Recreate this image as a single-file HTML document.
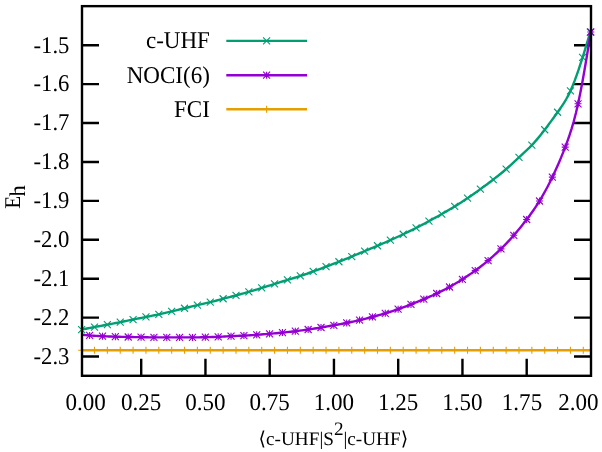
<!DOCTYPE html>
<html><head><meta charset="utf-8"><title>plot</title>
<style>
html,body{margin:0;padding:0;background:#fff;}
body{width:602px;height:452px;overflow:hidden;}
svg{display:block;will-change:transform;}
text{font-family:"Liberation Serif",serif;fill:#000;text-rendering:geometricPrecision;}
</style></head><body>
<svg width="602" height="452" viewBox="0 0 602 452">
<rect x="0" y="0" width="602" height="452" fill="#fff"/>
<path d="M82.00,45.25H99.00M591.00,45.25H574.00M82.00,84.16H99.00M591.00,84.16H574.00M82.00,123.06H99.00M591.00,123.06H574.00M82.00,161.97H99.00M591.00,161.97H574.00M82.00,200.87H99.00M591.00,200.87H574.00M82.00,239.78H99.00M591.00,239.78H574.00M82.00,278.69H99.00M591.00,278.69H574.00M82.00,317.59H99.00M591.00,317.59H574.00M82.00,356.50H99.00M591.00,356.50H574.00M141.20,375.80V358.80M205.45,375.80V358.80M269.70,375.80V358.80M333.95,375.80V358.80M398.20,375.80V358.80M462.45,375.80V358.80M526.70,375.80V358.80" fill="none" stroke="#000" stroke-width="2.4"/>
<polyline points="81.64,329.55 83.78,329.13 85.93,328.71 88.07,328.29 90.22,327.87 92.36,327.46 94.50,327.05 96.65,326.65 98.79,326.25 100.93,325.85 103.08,325.45 105.22,325.05 107.37,324.65 109.51,324.24 111.65,323.83 113.80,323.42 115.94,323.00 118.09,322.58 120.23,322.15 122.37,321.72 124.52,321.29 126.66,320.86 128.80,320.42 130.95,319.99 133.09,319.55 135.24,319.11 137.38,318.68 139.52,318.24 141.67,317.81 143.81,317.38 145.95,316.95 148.10,316.53 150.24,316.11 152.39,315.68 154.53,315.25 156.67,314.81 158.82,314.35 160.96,313.88 163.11,313.39 165.25,312.89 167.39,312.38 169.54,311.87 171.68,311.35 173.82,310.83 175.97,310.32 178.11,309.80 180.26,309.29 182.40,308.77 184.54,308.25 186.69,307.73 188.83,307.21 190.98,306.68 193.12,306.17 195.26,305.65 197.41,305.15 199.55,304.65 201.69,304.16 203.84,303.67 205.98,303.18 208.13,302.67 210.27,302.15 212.41,301.61 214.56,301.05 216.70,300.48 218.85,299.91 220.99,299.33 223.13,298.75 225.28,298.18 227.42,297.61 229.56,297.04 231.71,296.48 233.85,295.91 236.00,295.35 238.14,294.78 240.28,294.22 242.43,293.64 244.57,293.06 246.72,292.46 248.86,291.85 251.00,291.22 253.15,290.59 255.29,289.94 257.43,289.28 259.58,288.62 261.72,287.95 263.87,287.28 266.01,286.62 268.15,285.95 270.30,285.29 272.44,284.62 274.58,283.95 276.73,283.28 278.87,282.61 281.02,281.94 283.16,281.27 285.30,280.61 287.45,279.95 289.59,279.29 291.74,278.64 293.88,277.98 296.02,277.32 298.17,276.64 300.31,275.95 302.45,275.24 304.60,274.51 306.74,273.76 308.89,273.00 311.03,272.23 313.17,271.45 315.32,270.66 317.46,269.87 319.61,269.07 321.75,268.26 323.89,267.46 326.04,266.65 328.18,265.84 330.32,265.04 332.47,264.22 334.61,263.41 336.76,262.58 338.90,261.75 341.04,260.91 343.19,260.05 345.33,259.19 347.48,258.32 349.62,257.44 351.76,256.55 353.91,255.66 356.05,254.76 358.19,253.86 360.34,252.95 362.48,252.05 364.63,251.15 366.77,250.25 368.91,249.36 371.06,248.46 373.20,247.56 375.35,246.66 377.49,245.75 379.63,244.84 381.78,243.91 383.92,242.98 386.06,242.05 388.21,241.10 390.35,240.15 392.50,239.19 394.64,238.22 396.78,237.24 398.93,236.25 401.07,235.26 403.21,234.25 405.36,233.23 407.50,232.20 409.65,231.16 411.79,230.11 413.93,229.04 416.08,227.95 418.22,226.85 420.37,225.73 422.51,224.60 424.65,223.46 426.80,222.31 428.94,221.15 431.08,219.99 433.23,218.82 435.37,217.64 437.52,216.46 439.66,215.26 441.80,214.05 443.95,212.83 446.09,211.59 448.24,210.33 450.38,209.05 452.52,207.76 454.67,206.45 456.81,205.12 458.95,203.76 461.10,202.39 463.24,201.00 465.39,199.58 467.53,198.15 469.67,196.70 471.82,195.22 473.96,193.73 476.11,192.22 478.25,190.69 480.39,189.15 482.54,187.59 484.68,186.01 486.82,184.42 488.97,182.81 491.11,181.19 493.26,179.55 495.40,177.90 497.54,176.22 499.69,174.52 501.83,172.78 503.98,170.99 506.12,169.15 508.26,167.25 510.41,165.30 512.55,163.32 514.69,161.33 516.84,159.33 518.98,157.35 521.13,155.39 523.27,153.44 525.41,151.47 527.56,149.44 529.70,147.35 531.85,145.15 533.99,142.83 536.13,140.40 538.28,137.86 540.42,135.23 542.56,132.52 544.71,129.75 546.85,126.92 549.00,124.05 551.14,121.13 553.28,118.19 555.43,115.23 557.57,112.25 559.71,109.25 561.86,106.16 564.00,102.87 566.15,99.30 568.29,95.36 570.43,90.95 572.46,86.29 574.49,81.18 576.52,75.68 578.54,69.84 580.57,63.73 582.60,57.40 583.88,53.30 585.17,49.15 586.45,44.95 587.73,40.72 589.02,36.46 590.30,32.20" fill="none" stroke="#009E73" stroke-width="2.4" stroke-linejoin="round" stroke-linecap="butt"/>
<path d="M78.14,326.05L85.14,333.05M78.14,333.05L85.14,326.05M91.00,323.55L98.00,330.55M91.00,330.55L98.00,323.55M103.87,321.15L110.87,328.15M103.87,328.15L110.87,321.15M116.73,318.65L123.73,325.65M116.73,325.65L123.73,318.65M129.59,316.05L136.59,323.05M129.59,323.05L136.59,316.05M142.45,313.45L149.45,320.45M142.45,320.45L149.45,313.45M155.32,310.85L162.32,317.85M155.32,317.85L162.32,310.85M168.18,307.85L175.18,314.85M168.18,314.85L175.18,307.85M181.04,304.75L188.04,311.75M181.04,311.75L188.04,304.75M193.91,301.65L200.91,308.65M193.91,308.65L200.91,301.65M206.77,298.65L213.77,305.65M206.77,305.65L213.77,298.65M219.63,295.25L226.63,302.25M219.63,302.25L226.63,295.25M232.50,291.85L239.50,298.85M232.50,298.85L239.50,291.85M245.36,288.35L252.36,295.35M245.36,295.35L252.36,288.35M258.22,284.45L265.22,291.45M258.22,291.45L265.22,284.45M271.08,280.45L278.08,287.45M271.08,287.45L278.08,280.45M283.95,276.45L290.95,283.45M283.95,283.45L290.95,276.45M296.81,272.45L303.81,279.45M296.81,279.45L303.81,272.45M309.67,267.95L316.67,274.95M309.67,274.95L316.67,267.95M322.54,263.15L329.54,270.15M322.54,270.15L329.54,263.15M335.40,258.25L342.40,265.25M335.40,265.25L342.40,258.25M348.26,253.05L355.26,260.05M348.26,260.05L355.26,253.05M361.13,247.65L368.13,254.65M361.13,254.65L368.13,247.65M373.99,242.25L380.99,249.25M373.99,249.25L380.99,242.25M386.85,236.65L393.85,243.65M386.85,243.65L393.85,236.65M399.71,230.75L406.71,237.75M399.71,237.75L406.71,230.75M412.58,224.45L419.58,231.45M412.58,231.45L419.58,224.45M425.44,217.65L432.44,224.65M425.44,224.65L432.44,217.65M438.30,210.55L445.30,217.55M438.30,217.55L445.30,210.55M451.17,202.95L458.17,209.95M451.17,209.95L458.17,202.95M464.03,194.65L471.03,201.65M464.03,201.65L471.03,194.65M476.89,185.65L483.89,192.65M476.89,192.65L483.89,185.65M489.76,176.05L496.76,183.05M489.76,183.05L496.76,176.05M502.62,165.65L509.62,172.65M502.62,172.65L509.62,165.65M515.48,153.85L522.48,160.85M515.48,160.85L522.48,153.85M528.35,141.65L535.35,148.65M528.35,148.65L535.35,141.65M541.21,126.25L548.21,133.25M541.21,133.25L548.21,126.25M554.07,108.75L561.07,115.75M554.07,115.75L561.07,108.75M566.93,87.45L573.93,94.45M566.93,94.45L573.93,87.45M579.10,53.90L586.10,60.90M579.10,60.90L586.10,53.90M586.80,28.70L593.80,35.70M586.80,35.70L593.80,28.70" fill="none" stroke="#009E73" stroke-width="1.1"/>
<polyline points="82.00,334.75 83.28,334.87 84.55,335.00 85.83,335.12 87.10,335.23 88.38,335.34 89.65,335.45 91.80,335.61 93.94,335.75 96.08,335.88 98.22,336.00 100.36,336.10 102.51,336.20 104.65,336.30 106.79,336.39 108.93,336.47 111.07,336.55 113.22,336.63 115.36,336.70 117.50,336.76 119.64,336.82 121.79,336.87 123.93,336.92 126.07,336.96 128.21,337.00 130.35,337.04 132.50,337.07 134.64,337.10 136.78,337.13 138.92,337.16 141.06,337.20 143.21,337.24 145.35,337.28 147.49,337.31 149.63,337.35 151.78,337.38 153.92,337.40 156.06,337.41 158.20,337.42 160.34,337.42 162.49,337.41 164.63,337.41 166.77,337.40 168.91,337.40 171.06,337.39 173.20,337.39 175.34,337.39 177.48,337.40 179.62,337.40 181.77,337.41 183.91,337.41 186.05,337.41 188.19,337.41 190.33,337.41 192.48,337.40 194.62,337.38 196.76,337.36 198.90,337.33 201.05,337.29 203.19,337.25 205.33,337.20 207.47,337.15 209.61,337.09 211.76,337.03 213.90,336.96 216.04,336.88 218.18,336.80 220.33,336.71 222.47,336.61 224.61,336.51 226.75,336.41 228.89,336.30 231.04,336.20 233.18,336.10 235.32,336.01 237.46,335.91 239.60,335.81 241.75,335.71 243.89,335.60 246.03,335.48 248.17,335.36 250.32,335.23 252.46,335.09 254.60,334.95 256.74,334.80 258.88,334.65 261.03,334.49 263.17,334.32 265.31,334.16 267.45,333.98 269.59,333.80 271.74,333.61 273.88,333.42 276.02,333.22 278.16,333.02 280.31,332.81 282.45,332.60 284.59,332.38 286.73,332.16 288.87,331.93 291.02,331.70 293.16,331.45 295.30,331.20 297.44,330.94 299.59,330.67 301.73,330.39 303.87,330.10 306.01,329.81 308.15,329.50 310.30,329.19 312.44,328.86 314.58,328.53 316.72,328.19 318.86,327.85 321.01,327.50 323.15,327.14 325.29,326.78 327.43,326.42 329.58,326.05 331.72,325.68 333.86,325.30 336.00,324.92 338.14,324.53 340.29,324.14 342.43,323.74 344.57,323.32 346.71,322.90 348.86,322.46 351.00,322.01 353.14,321.55 355.28,321.08 357.42,320.60 359.57,320.10 361.71,319.59 363.85,319.08 365.99,318.55 368.13,318.01 370.28,317.46 372.42,316.90 374.56,316.33 376.70,315.75 378.85,315.15 380.99,314.55 383.13,313.93 385.27,313.30 387.41,312.66 389.56,312.00 391.70,311.33 393.84,310.64 395.98,309.93 398.12,309.20 400.27,308.44 402.41,307.67 404.55,306.87 406.69,306.06 408.84,305.23 410.98,304.40 413.12,303.56 415.26,302.71 417.40,301.85 419.55,300.98 421.69,300.10 423.83,299.20 425.97,298.29 428.12,297.37 430.26,296.43 432.40,295.47 434.54,294.49 436.68,293.50 438.83,292.49 440.97,291.45 443.11,290.38 445.25,289.29 447.39,288.16 449.54,287.00 451.68,285.80 453.82,284.56 455.96,283.29 458.11,281.99 460.25,280.66 462.39,279.30 464.53,277.92 466.67,276.51 468.82,275.08 470.96,273.62 473.10,272.13 475.24,270.60 477.39,269.04 479.53,267.43 481.67,265.79 483.81,264.11 485.95,262.38 488.10,260.60 490.24,258.77 492.38,256.90 494.52,254.97 496.66,253.00 498.81,250.97 500.95,248.90 503.09,246.77 505.23,244.60 507.38,242.36 509.52,240.07 511.66,237.72 513.80,235.30 515.94,232.82 518.09,230.27 520.23,227.67 522.37,225.00 524.51,222.28 526.65,219.50 528.80,216.67 530.94,213.76 533.08,210.76 535.22,207.65 537.37,204.40 539.51,201.00 541.65,197.43 543.79,193.69 545.93,189.79 548.08,185.72 550.22,181.49 552.36,177.10 554.50,172.55 556.65,167.84 558.79,162.95 560.93,157.87 563.07,152.59 565.21,147.10 567.36,141.36 569.50,135.24 571.64,128.58 573.78,121.22 575.92,113.01 578.07,103.80 580.19,93.58 582.31,82.41 584.43,70.47 586.56,57.97 588.68,45.08 590.80,32.00" fill="none" stroke="#9400D3" stroke-width="2.4" stroke-linejoin="round" stroke-linecap="butt"/>
<path d="M86.15,335.45H93.15M89.65,331.95V338.95M86.15,331.95L93.15,338.95M86.15,338.95L93.15,331.95M99.01,336.20H106.01M102.51,332.70V339.70M99.01,332.70L106.01,339.70M99.01,339.70L106.01,332.70M111.86,336.70H118.86M115.36,333.20V340.20M111.86,333.20L118.86,340.20M111.86,340.20L118.86,333.20M124.71,337.00H131.71M128.21,333.50V340.50M124.71,333.50L131.71,340.50M124.71,340.50L131.71,333.50M137.56,337.20H144.56M141.06,333.70V340.70M137.56,333.70L144.56,340.70M137.56,340.70L144.56,333.70M150.42,337.40H157.42M153.92,333.90V340.90M150.42,333.90L157.42,340.90M150.42,340.90L157.42,333.90M163.27,337.40H170.27M166.77,333.90V340.90M163.27,333.90L170.27,340.90M163.27,340.90L170.27,333.90M176.12,337.40H183.12M179.62,333.90V340.90M176.12,333.90L183.12,340.90M176.12,340.90L183.12,333.90M188.98,337.40H195.98M192.48,333.90V340.90M188.98,333.90L195.98,340.90M188.98,340.90L195.98,333.90M201.83,337.20H208.83M205.33,333.70V340.70M201.83,333.70L208.83,340.70M201.83,340.70L208.83,333.70M214.68,336.80H221.68M218.18,333.30V340.30M214.68,333.30L221.68,340.30M214.68,340.30L221.68,333.30M227.54,336.20H234.54M231.04,332.70V339.70M227.54,332.70L234.54,339.70M227.54,339.70L234.54,332.70M240.39,335.60H247.39M243.89,332.10V339.10M240.39,332.10L247.39,339.10M240.39,339.10L247.39,332.10M253.24,334.80H260.24M256.74,331.30V338.30M253.24,331.30L260.24,338.30M253.24,338.30L260.24,331.30M266.09,333.80H273.09M269.59,330.30V337.30M266.09,330.30L273.09,337.30M266.09,337.30L273.09,330.30M278.95,332.60H285.95M282.45,329.10V336.10M278.95,329.10L285.95,336.10M278.95,336.10L285.95,329.10M291.80,331.20H298.80M295.30,327.70V334.70M291.80,327.70L298.80,334.70M291.80,334.70L298.80,327.70M304.65,329.50H311.65M308.15,326.00V333.00M304.65,326.00L311.65,333.00M304.65,333.00L311.65,326.00M317.51,327.50H324.51M321.01,324.00V331.00M317.51,324.00L324.51,331.00M317.51,331.00L324.51,324.00M330.36,325.30H337.36M333.86,321.80V328.80M330.36,321.80L337.36,328.80M330.36,328.80L337.36,321.80M343.21,322.90H350.21M346.71,319.40V326.40M343.21,319.40L350.21,326.40M343.21,326.40L350.21,319.40M356.07,320.10H363.07M359.57,316.60V323.60M356.07,316.60L363.07,323.60M356.07,323.60L363.07,316.60M368.92,316.90H375.92M372.42,313.40V320.40M368.92,313.40L375.92,320.40M368.92,320.40L375.92,313.40M381.77,313.30H388.77M385.27,309.80V316.80M381.77,309.80L388.77,316.80M381.77,316.80L388.77,309.80M394.62,309.20H401.62M398.12,305.70V312.70M394.62,305.70L401.62,312.70M394.62,312.70L401.62,305.70M407.48,304.40H414.48M410.98,300.90V307.90M407.48,300.90L414.48,307.90M407.48,307.90L414.48,300.90M420.33,299.20H427.33M423.83,295.70V302.70M420.33,295.70L427.33,302.70M420.33,302.70L427.33,295.70M433.18,293.50H440.18M436.68,290.00V297.00M433.18,290.00L440.18,297.00M433.18,297.00L440.18,290.00M446.04,287.00H453.04M449.54,283.50V290.50M446.04,283.50L453.04,290.50M446.04,290.50L453.04,283.50M458.89,279.30H465.89M462.39,275.80V282.80M458.89,275.80L465.89,282.80M458.89,282.80L465.89,275.80M471.74,270.60H478.74M475.24,267.10V274.10M471.74,267.10L478.74,274.10M471.74,274.10L478.74,267.10M484.60,260.60H491.60M488.10,257.10V264.10M484.60,257.10L491.60,264.10M484.60,264.10L491.60,257.10M497.45,248.90H504.45M500.95,245.40V252.40M497.45,245.40L504.45,252.40M497.45,252.40L504.45,245.40M510.30,235.30H517.30M513.80,231.80V238.80M510.30,231.80L517.30,238.80M510.30,238.80L517.30,231.80M523.15,219.50H530.15M526.65,216.00V223.00M523.15,216.00L530.15,223.00M523.15,223.00L530.15,216.00M536.01,201.00H543.01M539.51,197.50V204.50M536.01,197.50L543.01,204.50M536.01,204.50L543.01,197.50M548.86,177.10H555.86M552.36,173.60V180.60M548.86,173.60L555.86,180.60M548.86,180.60L555.86,173.60M561.71,147.10H568.71M565.21,143.60V150.60M561.71,143.60L568.71,150.60M561.71,150.60L568.71,143.60M574.57,103.80H581.57M578.07,100.30V107.30M574.57,100.30L581.57,107.30M574.57,107.30L581.57,100.30M587.30,32.00H594.30M590.80,28.50V35.50M587.30,28.50L594.30,35.50M587.30,35.50L594.30,28.50" fill="none" stroke="#9400D3" stroke-width="1.1"/>
<polyline points="81.64,350.30 590.80,350.30" fill="none" stroke="#E69F00" stroke-width="2.4" stroke-linejoin="round" stroke-linecap="butt"/>
<path d="M78.14,350.30H85.14M81.64,346.80V353.80M91.00,350.30H98.00M94.50,346.80V353.80M103.87,350.30H110.87M107.37,346.80V353.80M116.73,350.30H123.73M120.23,346.80V353.80M129.59,350.30H136.59M133.09,346.80V353.80M142.45,350.30H149.45M145.95,346.80V353.80M155.32,350.30H162.32M158.82,346.80V353.80M168.18,350.30H175.18M171.68,346.80V353.80M181.04,350.30H188.04M184.54,346.80V353.80M193.91,350.30H200.91M197.41,346.80V353.80M206.77,350.30H213.77M210.27,346.80V353.80M219.63,350.30H226.63M223.13,346.80V353.80M232.50,350.30H239.50M236.00,346.80V353.80M245.36,350.30H252.36M248.86,346.80V353.80M258.22,350.30H265.22M261.72,346.80V353.80M271.08,350.30H278.08M274.58,346.80V353.80M283.95,350.30H290.95M287.45,346.80V353.80M296.81,350.30H303.81M300.31,346.80V353.80M309.67,350.30H316.67M313.17,346.80V353.80M322.54,350.30H329.54M326.04,346.80V353.80M335.40,350.30H342.40M338.90,346.80V353.80M348.26,350.30H355.26M351.76,346.80V353.80M361.13,350.30H368.13M364.63,346.80V353.80M373.99,350.30H380.99M377.49,346.80V353.80M386.85,350.30H393.85M390.35,346.80V353.80M399.71,350.30H406.71M403.21,346.80V353.80M412.58,350.30H419.58M416.08,346.80V353.80M425.44,350.30H432.44M428.94,346.80V353.80M438.30,350.30H445.30M441.80,346.80V353.80M451.17,350.30H458.17M454.67,346.80V353.80M464.03,350.30H471.03M467.53,346.80V353.80M476.89,350.30H483.89M480.39,346.80V353.80M489.76,350.30H496.76M493.26,346.80V353.80M502.62,350.30H509.62M506.12,346.80V353.80M515.48,350.30H522.48M518.98,346.80V353.80M528.35,350.30H535.35M531.85,346.80V353.80M541.21,350.30H548.21M544.71,346.80V353.80M554.07,350.30H561.07M557.57,346.80V353.80M566.93,350.30H573.93M570.43,346.80V353.80M579.80,350.30H586.80M583.30,346.80V353.80" fill="none" stroke="#E69F00" stroke-width="1.1"/>
<path d="M226.3,40.90H307" stroke="#009E73" stroke-width="2.4" fill="none"/>
<path d="M263.10,37.40L270.10,44.40M263.10,44.40L270.10,37.40" fill="none" stroke="#009E73" stroke-width="1.1"/>
<text transform="translate(209.90,48.30) scale(0.9600,1)" text-anchor="end" font-size="24">c-UHF</text>
<path d="M226.3,75.20H307" stroke="#9400D3" stroke-width="2.4" fill="none"/>
<path d="M263.10,75.20H270.10M266.60,71.70V78.70M263.10,71.70L270.10,78.70M263.10,78.70L270.10,71.70" fill="none" stroke="#9400D3" stroke-width="1.1"/>
<text transform="translate(209.90,82.60) scale(0.9600,1)" text-anchor="end" font-size="24">NOCI(6)</text>
<path d="M226.3,109.30H307" stroke="#E69F00" stroke-width="2.4" fill="none"/>
<path d="M263.10,109.30H270.10M266.60,105.80V112.80" fill="none" stroke="#E69F00" stroke-width="1.1"/>
<text transform="translate(209.90,116.70) scale(0.9600,1)" text-anchor="end" font-size="24">FCI</text>
<rect x="82.00" y="6.15" width="509.00" height="369.65" fill="none" stroke="#000" stroke-width="2.4"/>
<text transform="translate(69.40,52.55) scale(0.9450,1)" text-anchor="end" font-size="24">-1.5</text>
<text transform="translate(69.40,91.46) scale(0.9450,1)" text-anchor="end" font-size="24">-1.6</text>
<text transform="translate(69.40,130.36) scale(0.9450,1)" text-anchor="end" font-size="24">-1.7</text>
<text transform="translate(69.40,169.27) scale(0.9450,1)" text-anchor="end" font-size="24">-1.8</text>
<text transform="translate(69.40,208.17) scale(0.9450,1)" text-anchor="end" font-size="24">-1.9</text>
<text transform="translate(69.40,247.08) scale(0.9450,1)" text-anchor="end" font-size="24">-2.0</text>
<text transform="translate(69.40,285.99) scale(0.9450,1)" text-anchor="end" font-size="24">-2.1</text>
<text transform="translate(69.40,324.89) scale(0.9450,1)" text-anchor="end" font-size="24">-2.2</text>
<text transform="translate(69.40,363.80) scale(0.9450,1)" text-anchor="end" font-size="24">-2.3</text>
<text transform="translate(85.60,409.70) scale(0.9600,1)" text-anchor="middle" font-size="24">0.00</text>
<text transform="translate(141.20,409.70) scale(0.9600,1)" text-anchor="middle" font-size="24">0.25</text>
<text transform="translate(205.45,409.70) scale(0.9600,1)" text-anchor="middle" font-size="24">0.50</text>
<text transform="translate(269.70,409.70) scale(0.9600,1)" text-anchor="middle" font-size="24">0.75</text>
<text transform="translate(333.95,409.70) scale(0.9600,1)" text-anchor="middle" font-size="24">1.00</text>
<text transform="translate(398.20,409.70) scale(0.9600,1)" text-anchor="middle" font-size="24">1.25</text>
<text transform="translate(462.45,409.70) scale(0.9600,1)" text-anchor="middle" font-size="24">1.50</text>
<text transform="translate(522.00,409.70) scale(0.9600,1)" text-anchor="middle" font-size="24">1.75</text>
<text transform="translate(578.40,409.70) scale(0.9600,1)" text-anchor="middle" font-size="24">2.00</text>
<text transform="translate(258.60,444.70) scale(1.0100,1)" text-anchor="start" font-size="19">⟨c-UHF|S<tspan dy="-9.5">2</tspan><tspan dy="9.5">|c-UHF⟩</tspan></text>
<text transform="translate(20.20,208.80) rotate(-90) scale(0.9400,1)" text-anchor="start" font-size="22.5">E</text>
<text transform="translate(25.00,196.40) rotate(-90)" text-anchor="start" font-size="22.5">h</text>
</svg>
</body></html>
